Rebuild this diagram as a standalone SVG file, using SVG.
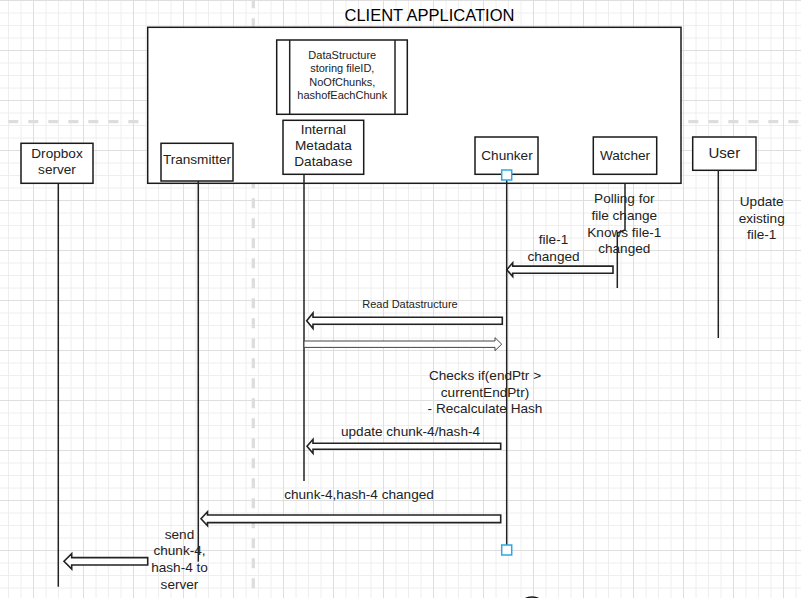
<svg xmlns="http://www.w3.org/2000/svg" width="801" height="598" viewBox="0 0 801 598">
  <defs>
    <pattern id="grid" patternUnits="userSpaceOnUse" x="8" y="0" width="50" height="50">
      <path d="M0.5 0V50M13 0V50M38 0V50M0 13H50M0 25.5H50M0 38H50" stroke="#eeeeee" stroke-width="1" fill="none"/>
      <path d="M25.5 0V50M0 0.5H50" stroke="#dedede" stroke-width="1" fill="none"/>
    </pattern>
    <style>
      .box { fill: #ffffff; stroke: #1a1a1a; stroke-width: 1.5; }
      .life { stroke: #222222; stroke-width: 1.5; fill: none; }
      .arrow { fill: #ffffff; stroke: #222222; stroke-width: 1.6; stroke-linejoin: miter; }
      .arrow-thin { fill: #ffffff; stroke: #444444; stroke-width: 1; }
      .handle { fill: #ffffff; stroke: #29a9e8; stroke-width: 1.5; }
      .page { stroke: #dddddd; stroke-width: 3.3; stroke-dasharray: 10 10; fill: none; }
      text { font-family: "Liberation Sans", Arial, sans-serif; fill: #222222; text-anchor: middle; }
      .lbl { font-size: 13.6px; }
      .small { font-size: 11px; }
      .title { font-size: 16.5px; fill: #000000; }
    </style>
  </defs>

  <rect x="0" y="0" width="801" height="598" fill="#ffffff"/>
  <rect x="0" y="0" width="801" height="598" fill="url(#grid)"/>

  <!-- page break guides -->
  <g id="page-breaks">
    <line class="page" x1="253.3" y1="-1.7" x2="253.3" y2="598"/>
    <line class="page" x1="8.3" y1="121.7" x2="801" y2="121.7"/>
  </g>

  <g id="client-application">
    <text class="title" x="429.5" y="21">CLIENT APPLICATION</text>
    <rect class="box" x="147.7" y="27.3" width="533.3" height="156"/>
  </g>

  <g id="datastructure">
    <rect class="box" x="276.7" y="40" width="130.6" height="74.3" stroke-width="1.3"/>
    <line class="life" x1="289.7" y1="40" x2="289.7" y2="114.3" stroke-width="1.3"/>
    <line class="life" x1="395" y1="40" x2="395" y2="114.3" stroke-width="1.3"/>
    <text class="small" x="342.3" y="58.5">DataStructure</text>
    <text class="small" x="342.3" y="72">storing fileID,</text>
    <text class="small" x="342.3" y="85.5">NoOfChunks,</text>
    <text class="small" x="342.3" y="99">hashofEachChunk</text>
  </g>

  <g id="dropbox-server">
    <rect class="box" x="21" y="143.3" width="72" height="40"/>
    <text class="lbl" x="57" y="157.5">Dropbox</text>
    <text class="lbl" x="57" y="174">server</text>
  </g>

  <g id="transmitter">
    <rect class="box" x="161" y="143.3" width="72" height="37.7"/>
    <text class="lbl" x="197" y="164">Transmitter</text>
  </g>

  <g id="internal-metadata-database">
    <rect class="box" x="283" y="120.3" width="80.7" height="54"/>
    <text class="lbl" x="323.4" y="133.5">Internal</text>
    <text class="lbl" x="323.4" y="150">Metadata</text>
    <text class="lbl" x="323.4" y="166.3">Database</text>
  </g>

  <g id="chunker">
    <rect class="box" x="475" y="137" width="63" height="37.3"/>
    <text class="lbl" x="507" y="159.5">Chunker</text>
  </g>

  <g id="watcher">
    <rect class="box" x="593.3" y="137" width="63.4" height="37.3"/>
    <text class="lbl" x="625" y="159.5">Watcher</text>
  </g>

  <g id="user">
    <rect class="box" x="692.7" y="137" width="63.3" height="33.3"/>
    <text x="724.3" y="157.5" font-size="15">User</text>
  </g>

  <g id="connectors">
    <!-- lifelines -->
    <line class="life" x1="58.3" y1="183.3" x2="58.3" y2="586.7"/>
    <line class="life" x1="198.3" y1="181" x2="198.3" y2="561.7"/>
    <line class="life" x1="304" y1="174.3" x2="304" y2="481"/>
    <line class="life" x1="506.7" y1="180" x2="506.7" y2="545"/>
    <polyline class="life" points="625,183.3 625,230 617.3,233 617.3,288"/>
    <line class="life" x1="718.3" y1="170.3" x2="718.3" y2="338"/>

    <!-- block arrows -->
    <polygon class="arrow" points="613,266.1 512.7,266.1 512.7,262.8 506.8,269.7 512.7,276.6 512.7,273.3 613,273.3"/>
    <polygon class="arrow" points="502.3,317.3 313,317.3 313,313 306.7,320.8 313,328.6 313,324.3 502.3,324.3"/>
    <polygon class="arrow-thin" points="304,341 495,341 495,337.7 501.7,344.2 495,350.7 495,347.4 304,347.4"/>
    <polygon class="arrow" points="500.7,443.3 313,443.3 313,439.3 307,446.3 313,453.3 313,449.3 500.7,449.3"/>
    <polygon class="arrow" points="500.7,515 207.5,515 207.5,511.8 201,518.8 207.5,525.8 207.5,522.6 500.7,522.6"/>
    <polygon class="arrow" points="147.7,557.6 71.7,557.6 71.7,553.6 64,561.3 71.7,569 71.7,565 147.7,565"/>

    <!-- connection handles -->
    <rect class="handle" x="501.7" y="170" width="10" height="10"/>
    <rect class="handle" x="501.7" y="545" width="10" height="10"/>
  </g>

  <g id="labels">
    <text class="lbl" x="624.3" y="203.3">Polling for</text>
    <text class="lbl" x="624.3" y="220">file change</text>
    <text class="lbl" x="624.3" y="236.5">Knows file-1</text>
    <text class="lbl" x="624.3" y="253">changed</text>

    <text class="lbl" x="553.5" y="244.3">file-1</text>
    <text class="lbl" x="553.5" y="260.8">changed</text>

    <text class="lbl" x="761.7" y="206.3">Update</text>
    <text class="lbl" x="761.7" y="222.8">existing</text>
    <text class="lbl" x="761.7" y="239.3">file-1</text>

    <text class="small" x="410" y="308">Read Datastructure</text>

    <text class="lbl" x="485" y="380.3">Checks if(endPtr &gt;</text>
    <text class="lbl" x="485" y="396.8">currentEndPtr)</text>
    <text class="lbl" x="485" y="413.3">- Recalculate Hash</text>

    <text class="lbl" x="410.5" y="435.5">update chunk-4/hash-4</text>
    <text class="lbl" x="359" y="499">chunk-4,hash-4 changed</text>

    <text class="lbl" x="179.5" y="538.5">send</text>
    <text class="lbl" x="179.5" y="555.2">chunk-4,</text>
    <text class="lbl" x="179.5" y="571.9">hash-4 to</text>
    <text class="lbl" x="179.5" y="588.5">server</text>
  </g>

  <g id="bottom-arc">
    <ellipse cx="532" cy="606" rx="12" ry="9" fill="none" stroke="#111111" stroke-width="1.5"/>
  </g>
</svg>
